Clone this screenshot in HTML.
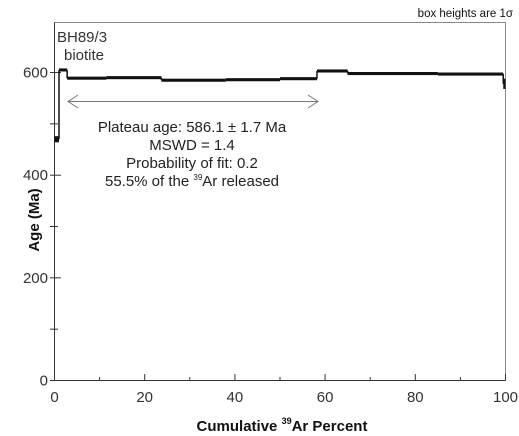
<!DOCTYPE html>
<html><head><meta charset="utf-8"><style>
body{margin:0;background:#fff;}
svg{display:block;font-family:"Liberation Sans",Arial,sans-serif;}
</style></head><body>
<svg width="519" height="436" viewBox="0 0 519 436">
<rect x="54.5" y="22.5" width="451" height="358" fill="none" stroke="#888" stroke-width="1"/>
<g id="axes"></g>
<g id="steps"></g>
<text x="513" y="17" font-size="11.5" text-anchor="end" fill="#111">box heights are 1σ</text>
<text x="57" y="42" font-size="15" fill="#333">BH89/3</text>
<text x="64" y="60" font-size="15" fill="#333">biotite</text>
<g stroke="#777" fill="none" stroke-width="1">
<line x1="68" y1="101.5" x2="318" y2="101.5"/>
<polyline points="78,95 68,101.5 78,108"/>
<polyline points="308,95 318,101.5 308,108"/>
</g>
<g font-size="15" fill="#222" text-anchor="middle">
<text x="192" y="132">Plateau age: 586.1 ± 1.7 Ma</text>
<text x="192" y="150">MSWD = 1.4</text>
<text x="192" y="168">Probability of fit: 0.2</text>
<text x="192" y="186">55.5% of the <tspan font-size="8" dy="-6">39</tspan><tspan dy="6">Ar released</tspan></text>
</g>
<text x="282" y="431" font-size="15" font-weight="bold" text-anchor="middle" fill="#111">Cumulative <tspan font-size="9" dy="-7">39</tspan><tspan dy="7">Ar Percent</tspan></text>
<text transform="translate(39,220) rotate(-90)" font-size="15" font-weight="bold" text-anchor="middle" fill="#111">Age (Ma)</text>
</svg>
<script>
const cumStart=[0,1.0,2.8,11.5,23.7,38,50,58.2,65,85,99.5];
const cumEnd=[1.0,2.8,11.5,23.7,38,50,58.2,65,85,99.5,100];
const ages=[470,605,589,590,585,586,588,603,598,597,578];
const errs=[6,3,3,3,3,3,3,3,3,3,10];
const xTicks=[0,20,40,60,80,100];
const yTicks=[0,200,400,600];
const NS="http://www.w3.org/2000/svg";
const X=v=>54.5+v*4.51;
const Y=v=>380.5-v*0.5133;
const ax=document.getElementById('axes');
function el(t,a,p){const e=document.createElementNS(NS,t);for(const k in a)e.setAttribute(k,a[k]);p.appendChild(e);return e;}
const xl=el('line',{x1:54.5,y1:380.5,x2:505.5,y2:380.5,stroke:'#333'},ax);


const yl=el('line',{x1:54.5,y1:22.5,x2:54.5,y2:380.5,stroke:'#333'},ax);


for(let v=0;v<=100;v+=10){const big=v%20===0;el('line',{x1:X(v),x2:X(v),y1:380.5,y2:big?374:377,stroke:'#333'},ax);}
for(let v=0;v<=600;v+=100){const big=v%200===0;el('line',{x1:54.5,x2:big?61:58,y1:Y(v),y2:Y(v),stroke:'#333'},ax);el('line',{x1:54.5,x2:50,y1:Y(v),y2:Y(v),stroke:'#333'},ax);}
xTicks.forEach(v=>{const t=el('text',{x:X(v),y:402,'font-size':15,'text-anchor':'middle',fill:'#333'},ax);t.textContent=v;

});
yTicks.forEach(v=>{const t=el('text',{x:48,y:Y(v)+5,'font-size':15,'text-anchor':'end',fill:'#333'},ax);t.textContent=v;

});
const sg=document.getElementById('steps');
ages.forEach((a,i)=>{const r=el('rect',{x:X(cumStart[i]),width:Math.max(1.5,X(cumEnd[i])-X(cumStart[i])),y:Y(a+errs[i]),height:Y(a-errs[i])-Y(a+errs[i]),fill:'#111'},sg);


if(i>0){const l=el('line',{x1:X(cumStart[i]),x2:X(cumStart[i]),y1:Y(ages[i-1]),y2:Y(a),stroke:'#111','stroke-width':1.5},sg);

}});
</script>
</body></html>
